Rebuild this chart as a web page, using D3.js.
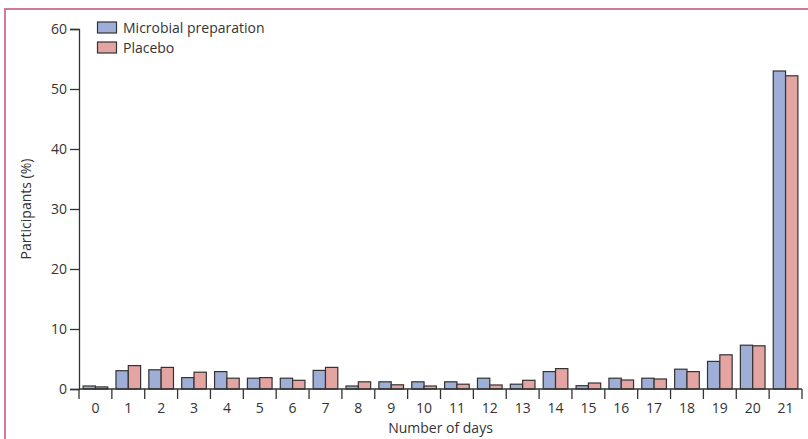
<!DOCTYPE html>
<html><head><meta charset="utf-8">
<script src="https://cdn.jsdelivr.net/npm/d3@7"></script>
<style>body{margin:0;background:#fff}svg{display:block}text{font-family:"Open Sans",sans-serif;fill:#333}</style>
</head><body><svg id="c" width="808" height="439"></svg>
<script>
const days = ["0","1","2","3","4","5","6","7","8","9","10","11","12","13","14","15","16","17","18","19","20","21"];
const microbial = [0.5,3.05,3.2,1.9,2.9,1.8,1.8,3.1,0.5,1.2,1.2,1.2,1.8,0.8,2.9,0.55,1.8,1.8,3.3,4.6,7.3,53.0];
const placebo = [0.35,3.9,3.6,2.8,1.8,1.9,1.45,3.6,1.2,0.7,0.5,0.8,0.67,1.45,3.4,1.0,1.5,1.67,2.9,5.7,7.2,52.2];
const yTicks = [0,10,20,30,40,50,60];
const seriesNames = ["Microbial preparation","Placebo"];
const colors = ["#9eaed7","#e3a4a2"];

const svg = d3.select("#c");
// frame
svg.append("line").attr("x1",5).attr("x2",5).attr("y1",9).attr("y2",439).attr("stroke","#d4789c").attr("stroke-width",2);
svg.append("line").attr("x1",4).attr("x2",808).attr("y1",9).attr("y2",9).attr("stroke","#d4789c").attr("stroke-width",2);

const x0 = 79, x1 = 802, yb = 389, yt = 29;
const x = d3.scaleBand().domain(days).range([x0,x1]).paddingInner(0.25).paddingOuter(0.125);
const xs = d3.scaleBand().domain([0,1]).range([0,x.bandwidth()]);
const y = d3.scaleLinear().domain([0,60]).range([yb,yt]);

const g = svg.append("g");
days.forEach((d,i)=>{
  [microbial[i],placebo[i]].forEach((v,s)=>{
    g.append("rect").attr("x",x(d)+xs(s)).attr("y",y(v)).attr("width",xs.bandwidth()).attr("height",yb-y(v))
     .attr("fill",colors[s]).attr("stroke","#333").attr("stroke-width",1.2);
  });
});

// y axis
const ya = svg.append("g").attr("transform",`translate(${x0},0)`).call(d3.axisLeft(y).tickValues(yTicks).tickSize(9).tickPadding(3));
ya.select(".domain").attr("stroke","#333").attr("stroke-width",1.3);
ya.selectAll(".tick line").attr("stroke","#333").attr("stroke-width",1.3);
ya.selectAll("text").attr("font-size",14).style("fill","#333").attr("font-family","Open Sans");

// x axis
const xb = d3.scalePoint().domain(d3.range(23)).range([x0,x1]);
const xa = svg.append("g").attr("transform",`translate(0,${yb})`);
xa.append("line").attr("x1",x0).attr("x2",x1).attr("stroke","#333").attr("stroke-width",1.3);
xa.selectAll(".tk").data(d3.range(23)).join("line").attr("x1",d=>xb(d)).attr("x2",d=>xb(d)).attr("y1",0).attr("y2",10).attr("stroke","#333").attr("stroke-width",1.3);
xa.selectAll(".lb").data(days).join("text").attr("x",d=>x(d)+x.bandwidth()/2).attr("y",24).attr("text-anchor","middle").attr("font-size",14).text(d=>d);

svg.append("text").attr("x",(x0+x1)/2).attr("y",433).attr("text-anchor","middle").attr("font-size",14).text("Number of days");
svg.append("text").attr("transform",`translate(31,${(yb+yt)/2}) rotate(-90)`).attr("text-anchor","middle").attr("font-size",14).text("Participants (%)");

// legend
seriesNames.forEach((n,i)=>{
  svg.append("rect").attr("x",97.5).attr("y",22+i*20).attr("width",19).attr("height",11).attr("fill",colors[i]).attr("stroke","#333").attr("stroke-width",1.2);
  svg.append("text").attr("x",123).attr("y",32.5+i*20).attr("font-size",14).text(n);
});
</script></body></html>
